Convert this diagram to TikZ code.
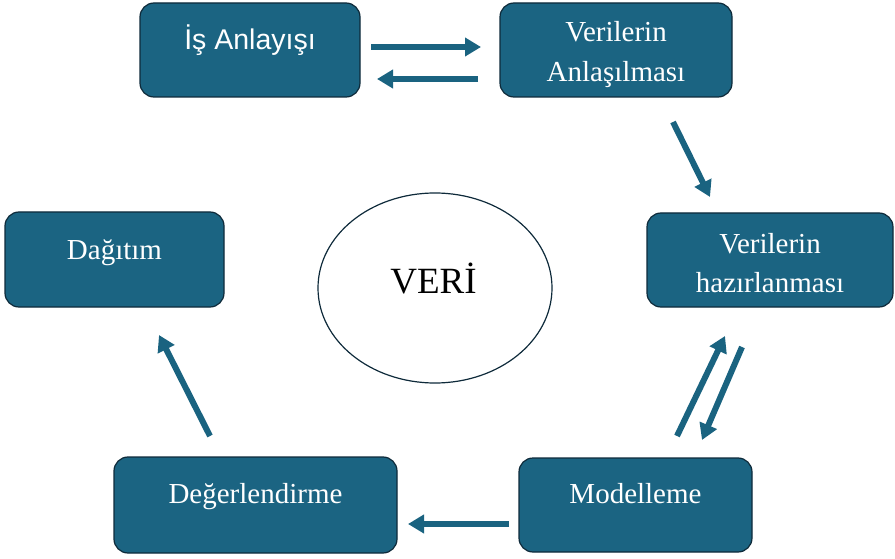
\documentclass[tikz,border=0pt]{standalone}
\usepackage{fontspec}
\setmainfont{Liberation Serif}
\newfontfamily\arialfont{Liberation Sans}
\usetikzlibrary{arrows.meta,shapes.geometric}
\definecolor{boxfill}{RGB}{27,100,130}
\definecolor{boxline}{RGB}{14,42,58}
\definecolor{arrowcol}{RGB}{26,99,128}
\tikzset{
  stagebox/.style={draw=boxline, line width=1.2pt, fill=boxfill, rounded corners=14pt, inner sep=0pt},
  stagetext/.style={anchor=base, text=white, font=\fontsize{29}{35}\selectfont, inner sep=0pt},
  flowarrow/.style={draw=arrowcol, line width=6pt, -{Triangle[width=18pt,length=16pt]}},
}
\begin{document}
\begin{tikzpicture}[x=1pt,y=-1pt]
\useasboundingbox (0,0) rectangle (895,559);
% boxes
\node[stagebox, minimum width=220pt, minimum height=94pt] (is) at (250,50) {};
\node[stagebox, minimum width=232pt, minimum height=94pt] (anl) at (616,50) {};
\node[stagebox, minimum width=246pt, minimum height=94pt] (haz) at (770,260) {};
\node[stagebox, minimum width=219pt, minimum height=95pt] (dag) at (114.5,259.5) {};
\node[stagebox, minimum width=283pt, minimum height=96pt] (deg) at (255.5,505) {};
\node[stagebox, minimum width=233pt, minimum height=94pt] (mod) at (635.5,505) {};
% texts
\node[stagetext, font=\arialfont\fontsize{28.5}{34}\selectfont] (ist) at (250,50) {İş Anlayışı};
\node[stagetext] (anlt1) at (616,42) {Verilerin};
\node[stagetext] (anlt2) at (616,82) {Anlaşılması};
\node[stagetext] (hazt1) at (770,253) {Verilerin};
\node[stagetext] (hazt2) at (770,292) {hazırlanması};
\node[stagetext] (dagt) at (114.5,259) {Dağıtım};
\node[stagetext] (degt) at (255.5,503) {Değerlendirme};
\node[stagetext] (modt) at (635.5,503) {Modelleme};
% central ellipse
\node[draw=boxline, line width=1.2pt, ellipse, minimum width=234pt, minimum height=190pt, inner sep=0pt] (veri) at (435,288) {};
\node[anchor=base, inner sep=0pt, font=\fontsize{37}{44}\selectfont] (verit) at (433.5,293) {VERİ};
% arrow end points
\coordinate (a1s) at (371,47);  \coordinate (a1e) at (481,47);
\coordinate (a2s) at (478,79);  \coordinate (a2e) at (377,79);
\coordinate (a3s) at (673,122); \coordinate (a3e) at (710,197);
\coordinate (a4s) at (742,347); \coordinate (a4e) at (702,440);
\coordinate (a5s) at (677,436); \coordinate (a5e) at (725,336);
\coordinate (a6s) at (509,524); \coordinate (a6e) at (408,524);
\coordinate (a7s) at (210,436); \coordinate (a7e) at (159,335);
\draw[flowarrow] (a1s) -- (a1e);
\draw[flowarrow] (a2s) -- (a2e);
\draw[flowarrow] (a3s) -- (a3e);
\draw[flowarrow] (a4s) -- (a4e);
\draw[flowarrow] (a5s) -- (a5e);
\draw[flowarrow] (a6s) -- (a6e);
\draw[flowarrow] (a7s) -- (a7e);
\end{tikzpicture}
\end{document}
